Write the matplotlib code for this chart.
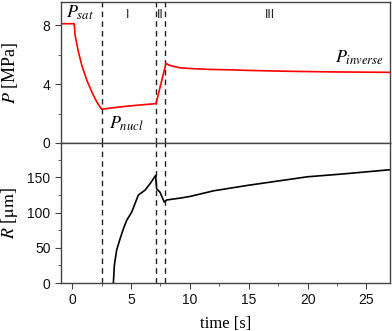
import matplotlib
matplotlib.use("Agg")
import matplotlib.pyplot as plt
from matplotlib.ticker import MultipleLocator

# pressure trace (MPa)
t_p = [-0.95, 0.17, 0.25, 0.53, 0.82, 1.25, 1.67, 2.09, 2.5, 4.0, 5.5, 7.12,
       7.97, 8.3, 8.7, 9.15, 10.25, 11.7, 13.5, 15.0, 18.5, 22.0, 27.0]
p_vals = [8.12, 8.12, 7.32, 6.19, 5.28, 4.26, 3.47, 2.79, 2.3, 2.45, 2.57, 2.68,
          5.42, 5.28, 5.2, 5.12, 5.06, 5.01, 4.98, 4.94, 4.88, 4.84, 4.81]

# bubble radius (um)
t_r = [3.5, 3.58, 3.78, 4.07, 4.35, 4.63, 5.06, 5.62, 6.19, 6.61, 7.09,
       7.17, 7.46, 7.82, 8.02, 9.3, 10.0, 12.0, 15.0, 20.0, 23.0, 27.0]
r_vals = [0, 25, 47, 63, 77, 89, 101, 125, 132, 141, 153,
          134, 129, 115, 118, 121, 123, 131, 139, 151, 155, 161]

stage_bounds = [2.5, 7.1, 7.9]
stage_labels = ["I", "II", "III"]
stage_label_t = [4.7, 7.5, 16.8]

plt.rcParams["mathtext.fontset"] = "stix"
plt.rcParams["font.family"] = "Liberation Sans"

fig = plt.figure(figsize=(3.92, 3.31), dpi=100)
ax_p = fig.add_axes([0.1556, 0.568, 0.8394, 0.426])
ax_r = fig.add_axes([0.1556, 0.145, 0.8394, 0.423], sharex=ax_p)

spine_col = "#444444"
for ax in (ax_p, ax_r):
    for s in ax.spines.values():
        s.set_color(spine_col)
        s.set_linewidth(1.0)
    ax.tick_params(which="both", direction="out", colors=spine_col,
                   labelcolor="#111111", labelsize=10)
    ax.tick_params(which="major", length=4)
    ax.tick_params(which="minor", length=2.5)
    for tb in stage_bounds:
        ax.axvline(tb, color="#222222", lw=1.0, ls=(0, (4, 3)))

ax_p.plot(t_p, p_vals, color="red", lw=1.2)
ax_p.set_xlim(-0.95, 27)
ax_p.set_ylim(0, 9.6)
ax_p.set_yticks([0, 4, 8])
ax_p.yaxis.set_minor_locator(MultipleLocator(2))
ax_p.tick_params(axis="x", which="both", bottom=False, labelbottom=False)
ax_p.set_ylabel(r"$P$ [MPa]", family="Liberation Serif", fontsize=13)
ax_p.yaxis.set_label_coords(-0.125, 0.5)

ax_p.text(-0.5, 8.55, r"$P_{sat}$", fontsize=13)
ax_p.text(3.1, 1.0, r"$P_{nucl}$", fontsize=13)
ax_p.text(22.3, 5.45, r"$P_{inverse}$", fontsize=13)
for lab, tl in zip(stage_labels, stage_label_t):
    ax_p.text(tl, 8.7, lab, fontsize=9, ha="center", va="center", color="#222222")

ax_r.plot(t_r, r_vals, color="black", lw=1.2)
ax_r.set_ylim(0, 199)
ax_r.set_yticks([0, 50, 100, 150])
ax_r.yaxis.set_minor_locator(MultipleLocator(25))
ax_r.set_xticks([0, 5, 10, 15, 20, 25])
ax_r.xaxis.set_minor_locator(MultipleLocator(2.5))
ax_r.set_ylabel(r"$R$ [$\mathrm{\mu m}$]", family="Liberation Serif", fontsize=13)
ax_r.yaxis.set_label_coords(-0.125, 0.5)
ax_r.set_xlabel("time [s]", family="Liberation Serif", fontsize=12, labelpad=6)

fig.savefig("out.png", dpi=100)
